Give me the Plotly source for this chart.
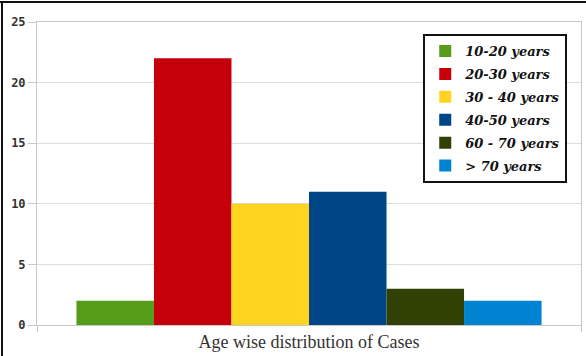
import plotly.graph_objects as go

# Age groups, case counts and bar colours
age_groups = ["10-20 years", "20-30 years", "30 - 40 years", "40-50 years", "60 - 70 years", "> 70 years"]
cases = [2, 22, 10, 11, 3, 2]
colors = ["#579d1c", "#c5000b", "#ffd320", "#004586", "#314004", "#0084d1"]
category = ["Age wise distribution of Cases"]
y_ticks = [0, 5, 10, 15, 20, 25]

fig = go.Figure()
for name, value, color in zip(age_groups, cases, colors):
    fig.add_trace(go.Bar(
        x=category, y=[value], name=name, legendgroup=name,
        marker=dict(color=color, line=dict(width=0)),
    ))

fig.update_layout(
    width=586, height=356,
    margin=dict(l=37, r=5, t=22, b=31),
    paper_bgcolor="white", plot_bgcolor="white",
    barmode="group", bargap=0.145, bargroupgap=0,
    showlegend=True,
    legend=dict(
        x=0.71, y=0.96, xanchor="left", yanchor="top",
        bgcolor="white", bordercolor="#111111", borderwidth=2,
        font=dict(family="DejaVu Serif", size=13, color="#111111", style="italic", weight="bold"),
        tracegroupgap=3, itemwidth=30,
    ),
    xaxis=dict(
        type="category", showgrid=False, showline=True, linecolor="#c8c8c8", linewidth=1,
        ticks="outside", tickson="boundaries", ticklen=6, tickcolor="#c8c8c8",
        tickfont=dict(family="Liberation Serif", size=18, color="#333333"),
        mirror=True,
    ),
    yaxis=dict(
        range=[0, 25], tickvals=y_ticks, showgrid=True, gridcolor="#dddddd", gridwidth=1,
        showline=True, linecolor="#c8c8c8", linewidth=1, mirror=True,
        ticks="outside", ticklen=8, tickcolor="#c8c8c8",
        tickfont=dict(family="DejaVu Sans Mono", size=12, color="#333333", weight="bold"),
        zeroline=False,
    ),
    shapes=[
        dict(type="line", xref="paper", yref="paper", x0=-37/544, x1=(586-5-37)/544 + 5/544,
             y0=1 + 20/303, y1=1 + 20/303, line=dict(color="#111111", width=2)),
        dict(type="line", xref="paper", yref="paper", x0=-35/544, x1=-35/544,
             y0=-31/303, y1=1 + 20/303, line=dict(color="#111111", width=2)),
    ],
)

fig.write_html("out.html")
